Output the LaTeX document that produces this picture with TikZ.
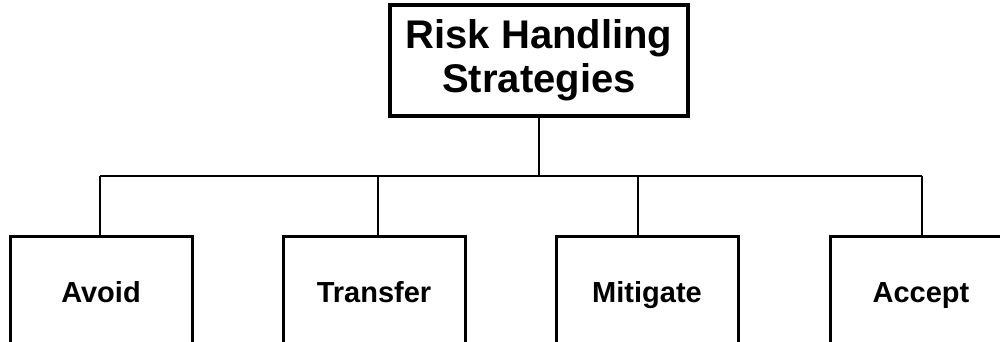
\documentclass[tikz,border=0pt]{standalone}
\usepackage{fontspec}
\setmainfont{Liberation Sans}
\begin{document}
\begin{tikzpicture}[x=1pt,y=-1pt,
  topbox/.style={draw,line width=4.5pt,minimum width=298pt,minimum height=111pt,align=center,inner sep=0pt,font=\fontsize{40}{44}\selectfont\bfseries},
  leafbox/.style={draw,line width=3pt,minimum width=182pt,minimum height=113pt,inner sep=0pt,text height=20.4pt,text depth=0pt,font=\fontsize{29}{32}\selectfont\bfseries},
  conn/.style={line width=2.5pt}]
\useasboundingbox (0,0) rectangle (1000,342);
\clip (0,0) rectangle (1000,342);
\node[topbox] (top) at (539,60.5) {Risk Handling\\Strategies};
\node[leafbox] (avoid) at (101,292.5) {Avoid};
\node[leafbox] (transfer) at (374,292.5) {Transfer};
\node[leafbox] (mitigate) at (647,292.5) {Mitigate};
\node[leafbox] (accept) at (921,292.5) {Accept};
\coordinate (hub) at (539,176);
\coordinate (b1) at (100,176);
\coordinate (b2) at (378,176);
\coordinate (b3) at (638,176);
\coordinate (b4) at (922,176);
\draw[conn] (top.south) -- (hub);
\draw[conn] (b1) -- (b4);
\draw[conn] (b1) -- (b1 |- avoid.north);
\draw[conn] (b2) -- (b2 |- transfer.north);
\draw[conn] (b3) -- (b3 |- mitigate.north);
\draw[conn] (b4) -- (b4 |- accept.north);
\end{tikzpicture}
\end{document}
